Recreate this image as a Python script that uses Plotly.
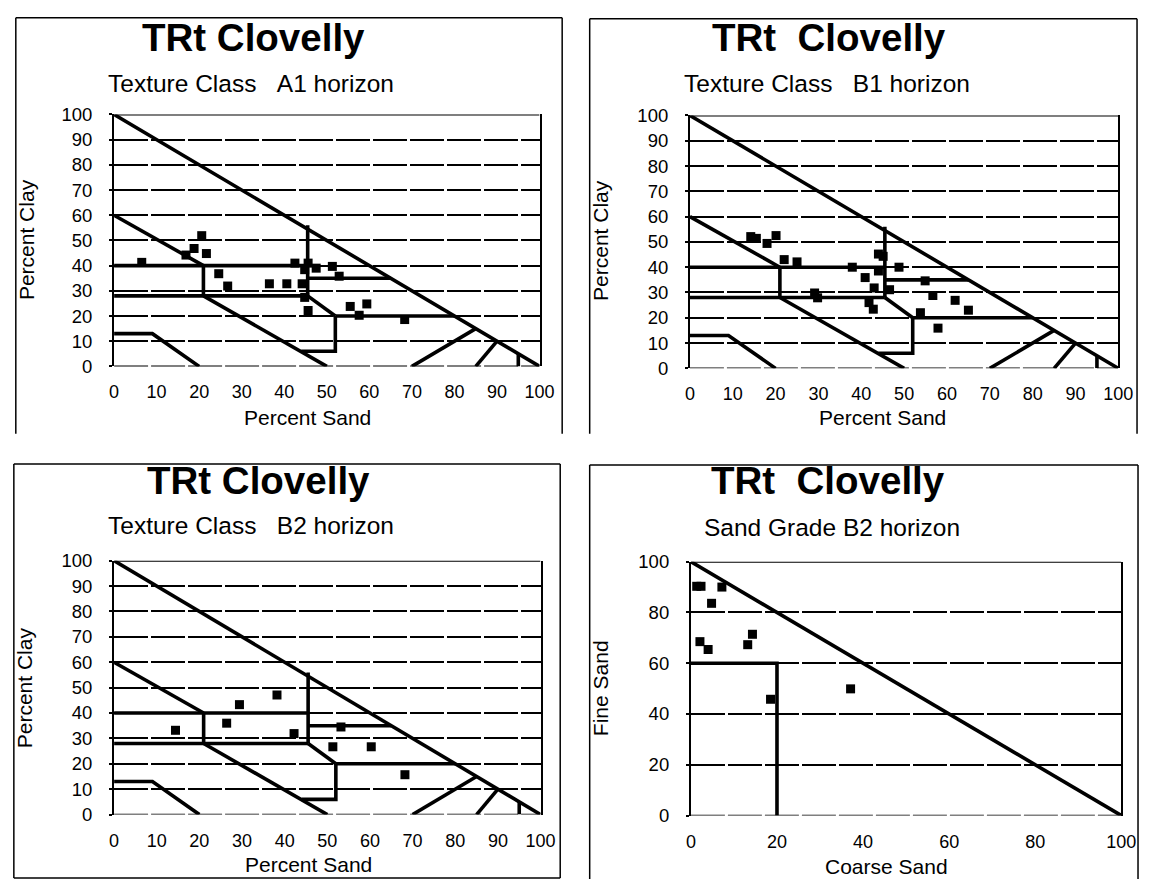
import plotly.graph_objects as go

W, H = 1154, 889
FONT = "Liberation Sans, Arial, sans-serif"

# ---------------- data ----------------
texture_ticks = [0, 10, 20, 30, 40, 50, 60, 70, 80, 90, 100]
grade_ticks = [0, 20, 40, 60, 80, 100]

# texture-class boundary lines (percent sand, percent clay), None separates segments
tex_bx = [0, 100, None, 0, 21, None, 0, 45.5, None, 0, 45.5, None, 21, 21, None,
          45.5, 45.5, None, 21, 50, None, 45.5, 52, None, 45.5, 65, None, 52, 80, None,
          52, 52, 44, None, 0, 9, 20, None, 70, 85, None, 85, 90, None, 95, 95]
tex_by = [100, 0, None, 60, 40, None, 40, 40, None, 28, 28, None, 28, 40, None,
          28, 56, None, 28, 0, None, 28, 20, None, 35, 35, None, 20, 20, None,
          20, 6, 6, None, 13, 13, 0, None, 0, 15, None, 0, 10, None, 0, 5]

# sand-grade boundary lines (coarse sand, fine sand)
grade_bx = [0, 100, None, 0, 20, 20]
grade_by = [100, 0, None, 60, 60, 0]

a1_sand = [6.5, 16.9, 18.8, 20.6, 21.7, 24.6, 26.7, 36.5, 40.6, 42.5, 44.2, 44.8,
           45.6, 47.5, 51.3, 52.9, 44.8, 45.6, 55.5, 59.4, 57.6, 68.3]
a1_clay = [41.3, 44.2, 46.8, 51.9, 44.8, 36.8, 31.9, 32.8, 32.8, 41.0, 32.8, 38.4,
           41.0, 39.0, 39.7, 35.8, 27.4, 22.2, 23.8, 24.8, 20.3, 18.6]

b1_sand = [14.2, 15.5, 18.0, 20.1, 22.0, 25.0, 29.1, 29.8, 37.9, 44.0, 45.1, 44.0,
           40.9, 43.0, 41.8, 42.8, 46.6, 48.8, 54.9, 56.7, 61.9, 65.0, 53.8, 57.9]
b1_clay = [52.1, 51.4, 49.4, 52.5, 43.0, 42.1, 29.8, 27.9, 40.0, 45.2, 44.3, 38.5,
           35.9, 31.8, 26.0, 23.4, 31.1, 40.0, 34.6, 28.8, 26.9, 23.0, 22.0, 15.9]

b2_sand = [14.4, 26.4, 29.4, 38.2, 42.2, 51.3, 60.3, 68.2, 53.2]
b2_clay = [33.2, 36.0, 43.3, 47.1, 31.9, 26.7, 26.7, 15.7, 34.5]

grade_coarse = [1.35, 2.35, 7.2, 4.8, 14.3, 2.1, 4.0, 13.2, 37.1, 18.5]
grade_fine = [90.3, 90.3, 90.0, 83.6, 71.4, 68.5, 65.4, 67.3, 49.9, 45.8]

title_main = ["TRt Clovelly", "TRt\u00a0\u00a0Clovelly", "TRt Clovelly", "TRt\u00a0\u00a0Clovelly"]
subtitles = ["Texture Class\u00a0\u00a0\u00a0A1 horizon", "Texture Class\u00a0\u00a0\u00a0B1 horizon",
             "Texture Class\u00a0\u00a0\u00a0B2 horizon", "Sand Grade B2 horizon"]
x_titles = ["Percent Sand", "Percent Sand", "Percent Sand", "Coarse Sand"]
y_titles = ["Percent Clay", "Percent Clay", "Percent Clay", "Fine Sand"]

# ---------------- layout geometry (pixels) ----------------
panels = [
    dict(xs=a1_sand, ys=a1_clay, bx=tex_bx, by=tex_by, ticks=texture_ticks,
         plot=(111, 544, 106, 364), frame=(11, 567, 7, 433, False),
         title=(253, 27), sub=(103, 74), xt=(308, 416), yt=(22, 234)),
    dict(xs=b1_sand, ys=b1_clay, bx=tex_bx, by=tex_by, ticks=texture_ticks,
         plot=(697, 1133, 107, 366), frame=(595, 1152, 8, 433, False),
         title=(839, 27), sub=(689, 74), xt=(893, 416), yt=(606, 235)),
    dict(xs=b2_sand, ys=b2_clay, bx=tex_bx, by=tex_by, ticks=texture_ticks,
         plot=(111, 545, 563, 823), frame=(9, 565, 464, 888, True),
         title=(258, 481), sub=(103, 527), xt=(309, 874), yt=(20, 693)),
    dict(xs=grade_coarse, ys=grade_fine, bx=grade_bx, by=grade_by, ticks=grade_ticks,
         plot=(698, 1136, 564, 824), frame=(595, 1153, 465, 889, False),
         title=(838, 481), sub=(709, 529), xt=(897, 876), yt=(606, 693)),
]

fig = go.Figure()
annotations = []
shapes = []
GRID_DASH = "34px,3px"

for i, p in enumerate(panels):
    n = "" if i == 0 else str(i + 1)
    xa, ya = "x" + n, "y" + n
    x0, x1, y0, y1 = p["plot"]

    fig.add_trace(go.Scatter(x=p["bx"], y=p["by"], mode="lines", xaxis=xa, yaxis=ya,
                             line=dict(color="black", width=3.6), connectgaps=False,
                             hoverinfo="skip", showlegend=False))
    fig.add_trace(go.Scatter(x=p["xs"], y=p["ys"], mode="markers", xaxis=xa, yaxis=ya,
                             marker=dict(symbol="square", size=9, color="black"),
                             showlegend=False, cliponaxis=False))

    fig.update_layout(**{
        "xaxis" + n: dict(domain=[x0 / W, x1 / W], range=[0, 100], anchor=ya,
                          tickvals=p["ticks"], showgrid=False, zeroline=False,
                          showline=False, ticks="", ticklabelstandoff=13,
                          tickfont=dict(family=FONT, size=18, color="black"), fixedrange=True),
        "yaxis" + n: dict(domain=[1 - y1 / H, 1 - y0 / H], range=[0, 100], anchor=xa,
                          tickvals=p["ticks"], showgrid=True, gridcolor="black",
                          gridwidth=1.8, griddash=GRID_DASH, zeroline=False,
                          showline=True, linecolor="black", linewidth=2, mirror=True,
                          ticks="outside", ticklen=3, tickwidth=1.5, tickcolor="black",
                          ticklabelstandoff=13,
                          tickfont=dict(family=FONT, size=18.5, color="black"), fixedrange=True),
    })

    # top border (solid) and bottom zero line (dashed)
    shapes.append(dict(type="line", xref=xa, yref=ya, x0=0, x1=100, y0=100, y1=100,
                       line=dict(color="black", width=2)))
    shapes.append(dict(type="line", xref=xa, yref=ya, x0=0, x1=100, y0=0, y1=0,
                       line=dict(color="black", width=1.8, dash=GRID_DASH)))

    # panel frame
    fx0, fx1, fy0, fy1, bottom = p["frame"]
    fl = dict(color="black", width=1.5)
    shapes.append(dict(type="line", xref="paper", yref="paper", x0=fx0 / W, x1=fx1 / W,
                       y0=1 - fy0 / H, y1=1 - fy0 / H, line=fl))
    shapes.append(dict(type="line", xref="paper", yref="paper", x0=fx0 / W, x1=fx0 / W,
                       y0=1 - fy0 / H, y1=1 - fy1 / H, line=fl))
    shapes.append(dict(type="line", xref="paper", yref="paper", x0=fx1 / W, x1=fx1 / W,
                       y0=1 - fy0 / H, y1=1 - fy1 / H, line=fl))
    if bottom:
        shapes.append(dict(type="line", xref="paper", yref="paper", x0=fx0 / W, x1=fx1 / W,
                           y0=1 - fy1 / H, y1=1 - fy1 / H, line=fl))

    tx, ty = p["title"]
    annotations.append(dict(text="<b>" + title_main[i] + "</b>", x=tx / W, y=1 - ty / H,
                            xref="paper", yref="paper", xanchor="center", yanchor="middle",
                            showarrow=False, font=dict(family=FONT, size=38.5, color="black")))
    sx, sy = p["sub"]
    annotations.append(dict(text=subtitles[i], x=sx / W, y=1 - sy / H,
                            xref="paper", yref="paper", xanchor="left", yanchor="middle",
                            showarrow=False, font=dict(family=FONT, size=24.5, color="black")))
    ax_, ay_ = p["xt"]
    annotations.append(dict(text=x_titles[i], x=ax_ / W, y=1 - ay_ / H,
                            xref="paper", yref="paper", xanchor="center", yanchor="middle",
                            showarrow=False, font=dict(family=FONT, size=21, color="black")))
    bx_, by_ = p["yt"]
    annotations.append(dict(text=y_titles[i], x=bx_ / W, y=1 - by_ / H, textangle=-90,
                            xref="paper", yref="paper", xanchor="center", yanchor="middle",
                            showarrow=False, font=dict(family=FONT, size=21, color="black")))

fig.update_layout(width=W, height=H, margin=dict(l=0, r=0, t=0, b=0),
                  paper_bgcolor="white", plot_bgcolor="white", showlegend=False,
                  annotations=annotations, shapes=shapes)

fig.write_html("out.html")
